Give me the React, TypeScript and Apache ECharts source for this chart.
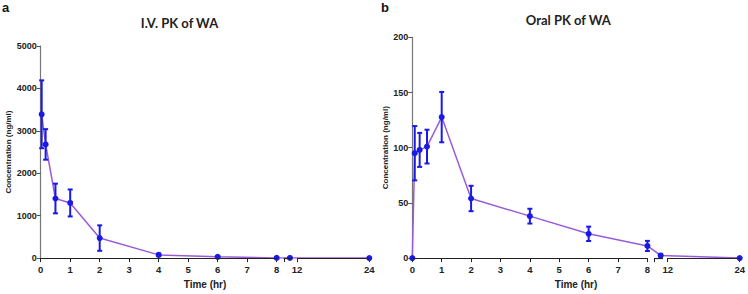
import React, { useEffect, useRef } from "react";
import * as echarts from "echarts";

// ---- data ----
const ivTimes = [0.033, 0.167, 0.5, 1, 2, 4, 6, 8, 10, 24];
const ivMean = [3390, 2680, 1405, 1300, 472, 76, 30, 5, 3, 1];
const ivSd = [800, 360, 350, 318, 300, 30, 15, 3, 2, 1];

const oralTimes = [0, 0.083, 0.25, 0.5, 1, 2, 4, 6, 8, 10, 24];
const oralMean = [0, 95, 98, 101, 127.7, 54, 38, 22, 11, 2.4, 0];
const oralSd = [0, 24.6, 15.4, 15.3, 22.8, 11.5, 6.7, 6.5, 4.6, 1, 0];

const xTickHours = [0, 1, 2, 3, 4, 5, 6, 7, 8, 12, 24];
const ivYTicks = [0, 1000, 2000, 3000, 4000, 5000];
const oralYTicks = [0, 50, 100, 150, 200];

// broken-axis mapping: hours -> display coordinate
const SEG2_START = 8.24;
const SEG2_END = 8.53;
const SEG3_START = 8.69;
const X_MAX = 11.14;
function toU(t: number): number {
  if (t <= 8) return t;
  if (t < 12) return 8.45 + (t - 10) * 0.04;
  return SEG3_START + ((t - 12) * (X_MAX - SEG3_START)) / 12;
}

const LINE = "#9a5bd9";
const BLUE = "#1a1ae6";
const LABEL_FONT = "'Liberation Sans', Arial, sans-serif";
const TITLE_FONT = "Lato, 'Open Sans', sans-serif";

function buildPanel(
  idx: number,
  times: number[],
  mean: number[],
  sd: number[],
  yTicks: number[],
  yName: string,
  yNameGap: number
) {
  const pts = times.map((t, i) => [toU(t), mean[i]]);
  const bars = times.map((t, i) => [toU(t), mean[i] - sd[i], mean[i] + sd[i]]);
  const tickU = xTickHours.map(toU);
  const labelMap: Record<string, string> = {};
  xTickHours.forEach((h) => (labelMap[toU(h).toFixed(3)] = String(h)));
  const axisSegs = [
    [0, 8],
    [SEG2_START, SEG2_END],
    [SEG3_START, X_MAX],
  ];
  const xAxis = {
    type: "value",
    gridIndex: idx,
    min: 0,
    max: X_MAX,
    axisLine: { show: false },
    splitLine: { show: false },
    axisTick: {
      show: true,
      customValues: [...tickU, SEG2_START],
      length: 4,
      lineStyle: { color: "#222", width: 1 },
    },
    axisLabel: {
      show: true,
      customValues: tickU,
      formatter: (v: number) => labelMap[v.toFixed(3)] ?? "",
      fontFamily: LABEL_FONT,
      fontWeight: "bold",
      fontSize: 9.5,
      color: "#222",
      margin: 6,
    },
    name: "Time (hr)",
    nameLocation: "middle",
    nameGap: 17,
    nameTextStyle: { fontFamily: LABEL_FONT, fontWeight: "bold", fontSize: 10, color: "#222" },
  };
  const yAxis = {
    type: "value",
    gridIndex: idx,
    min: 0,
    max: yTicks[yTicks.length - 1],
    interval: yTicks[1] - yTicks[0],
    axisLine: { show: true, lineStyle: { color: "#777", width: 1.2 } },
    axisTick: { show: true, length: 4, lineStyle: { color: "#555" } },
    splitLine: { show: false },
    axisLabel: {
      formatter: (v: number) => String(v),
      fontFamily: LABEL_FONT,
      fontWeight: "bold",
      fontSize: 9,
      color: "#222",
      margin: 4,
    },
    name: yName,
    nameLocation: "middle",
    nameGap: yNameGap,
    nameTextStyle: { fontFamily: LABEL_FONT, fontWeight: "bold", fontSize: 8, color: "#222" },
  };
  const series = [
    {
      type: "line",
      xAxisIndex: idx,
      yAxisIndex: idx,
      data: [],
      silent: true,
      markLine: {
        silent: true,
        symbol: "none",
        label: { show: false },
        lineStyle: { color: "#222", width: 1.2, type: "solid" },
        data: axisSegs.map((s) => [{ coord: [s[0], 0] }, { coord: [s[1], 0] }]),
      },
      z: 1,
    },
    {
      type: "line",
      xAxisIndex: idx,
      yAxisIndex: idx,
      data: pts,
      symbol: "circle",
      symbolSize: 6,
      itemStyle: { color: BLUE },
      lineStyle: { color: LINE, width: 1.5 },
      z: 3,
    },
    {
      type: "custom",
      xAxisIndex: idx,
      yAxisIndex: idx,
      data: bars,
      z: 4,
      renderItem: (params: any, api: any) => {
        const x = api.value(0);
        const lo = api.coord([x, api.value(1)]);
        const hi = api.coord([x, api.value(2)]);
        if (Math.abs(hi[1] - lo[1]) < 1) return null;
        const cx = lo[0];
        const w = 2.5;
        const style = { stroke: BLUE, lineWidth: 2 };
        return {
          type: "group",
          children: [
            { type: "line", shape: { x1: cx, y1: lo[1], x2: cx, y2: hi[1] }, style },
            { type: "line", shape: { x1: cx - w, y1: lo[1], x2: cx + w, y2: lo[1] }, style },
            { type: "line", shape: { x1: cx - w, y1: hi[1], x2: cx + w, y2: hi[1] }, style },
          ],
        };
      },
    },
  ];
  return { xAxis, yAxis, series };
}

export default function App() {
  const ref = useRef<HTMLDivElement>(null);
  useEffect(() => {
    if (!ref.current) return;
    const chart = echarts.init(ref.current, undefined, { renderer: "svg" });
    const a = buildPanel(0, ivTimes, ivMean, ivSd, ivYTicks, "Concentration (ng/ml)", 26);
    const b = buildPanel(1, oralTimes, oralMean, oralSd, oralYTicks, "Concentration (ng/ml)", 23);
    chart.setOption({
      animation: false,
      backgroundColor: "#fff",
      grid: [
        { left: 40.7, top: 46, width: 328.6, height: 218.3 },
        { left: 412.3, top: 37.3, width: 328.7, height: 223.7 },
      ],
      xAxis: [a.xAxis, b.xAxis],
      yAxis: [a.yAxis, b.yAxis],
      series: [...a.series, ...b.series],
      graphic: [
        {
          type: "text",
          left: 2,
          top: 1,
          style: { text: "a", font: `bold 13px ${LABEL_FONT}`, fill: "#111" },
        },
        {
          type: "text",
          left: 381,
          top: 1,
          style: { text: "b", font: `bold 13px ${LABEL_FONT}`, fill: "#111" },
        },
        {
          type: "text",
          x: 179.5,
          y: 22.5,
          style: {
            text: "I.V. PK of WA",
            font: `bold 13px ${TITLE_FONT}`,
            fill: "#222",
            align: "center",
            verticalAlign: "middle",
          },
        },
        {
          type: "text",
          x: 568.3,
          y: 20,
          style: {
            text: "Oral PK of WA",
            font: `bold 13px ${TITLE_FONT}`,
            fill: "#222",
            align: "center",
            verticalAlign: "middle",
          },
        },
      ],
    });
    return () => chart.dispose();
  }, []);
  return (
    <div
      ref={ref}
      style={{ position: "absolute", left: 0, top: 0, width: 748, height: 294 }}
    />
  );
}
